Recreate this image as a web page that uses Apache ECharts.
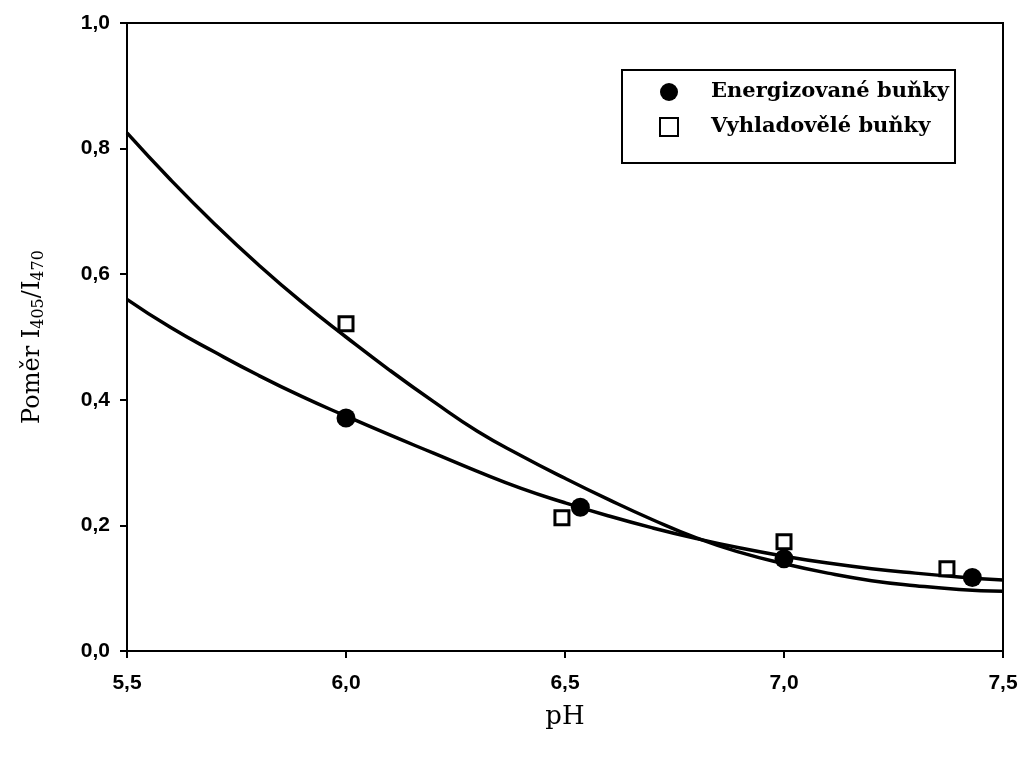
<!DOCTYPE html>
<html>
<head>
<meta charset="utf-8">
<script src="https://cdn.jsdelivr.net/npm/echarts@6/dist/echarts.min.js"></script>
<style>html,body{margin:0;padding:0;background:#fff}#c{width:1022px;height:758px}</style>
</head>
<body>
<div id="c"></div>
<script>
// Measured points
const energizedX = [6.0, 6.535, 7.0, 7.43];
const energizedY = [0.371, 0.229, 0.147, 0.117];
const starvedX = [6.0, 6.493, 7.0, 7.372];
const starvedY = [0.521, 0.212, 0.174, 0.131];
// Fitted curves
const curveX = [5.5, 5.6, 5.7, 5.8, 5.9, 6.0, 6.1, 6.2, 6.3, 6.4, 6.5, 6.6, 6.7, 6.8, 6.9, 7.0, 7.1, 7.2, 7.3, 7.4, 7.5];
const energizedFit = [0.56, 0.515, 0.476, 0.439, 0.405, 0.374, 0.344, 0.315, 0.286, 0.259, 0.236, 0.215, 0.196, 0.179, 0.164, 0.151, 0.140, 0.131, 0.124, 0.118, 0.113];
const starvedFit = [0.825, 0.75, 0.68, 0.615, 0.555, 0.50, 0.447, 0.397, 0.350, 0.311, 0.275, 0.241, 0.209, 0.180, 0.157, 0.139, 0.124, 0.112, 0.104, 0.098, 0.095];
const seriesNames = ['Energizované buňky', 'Vyhladovělé buňky'];
const xTicks = [5.5, 6.0, 6.5, 7.0, 7.5];
const yTicks = [0.0, 0.2, 0.4, 0.6, 0.8, 1.0];

const zip = (a, b) => a.map((v, i) => [v, b[i]]);
const fmt = v => v.toFixed(1).replace('.', ',');

const chart = echarts.init(document.getElementById('c'), null, {renderer: 'canvas'});
chart.setOption({
  animation: false,
  backgroundColor: '#fff',
  grid: {left: 127, right: 19, top: 23, bottom: 107, show: true, borderColor: '#000', borderWidth: 2},
  legend: {
    data: [
      {name: seriesNames[0], icon: 'circle'},
      {name: seriesNames[1], icon: 'rect'}
    ],
    orient: 'vertical',
    left: 622, top: 70,
    padding: [10, 6, 24, 37],
    itemGap: 11,
    itemWidth: 18, itemHeight: 18,
    borderColor: '#000', borderWidth: 2,
    textStyle: {fontFamily: 'DejaVu Serif', fontWeight: 'bold', fontSize: 21, lineHeight: 24, color: '#000', padding: [0, 0, 0, 28]}
  },
  xAxis: {
    type: 'value', min: 5.5, max: 7.5, interval: 0.5,
    name: 'pH', nameLocation: 'middle', nameGap: 53,
    nameTextStyle: {fontFamily: 'DejaVu Serif', fontSize: 26, color: '#000'},
    axisLine: {onZero: false, lineStyle: {color: '#000', width: 2}},
    axisTick: {show: true, inside: false, length: 7, lineStyle: {color: '#000', width: 2}},
    axisLabel: {margin: 22, fontFamily: 'Liberation Sans', fontWeight: 'bold', fontSize: 21, color: '#000',
      formatter: v => xTicks.some(t => Math.abs(t - v) < 1e-6) ? fmt(v) : ''},
    splitLine: {show: false}
  },
  yAxis: {
    type: 'value', min: 0, max: 1.0, interval: 0.2,
    name: '{m|Poměr I}{s|405}{m|/I}{s|470}', nameLocation: 'middle', nameGap: 80, nameRotate: 90,
    nameTextStyle: {
      rich: {
        m: {fontFamily: 'DejaVu Serif', fontSize: 24, color: '#000'},
        s: {fontFamily: 'DejaVu Serif', fontSize: 16, color: '#000', verticalAlign: 'bottom', padding: [12, 0, 0, 0]}
      }
    },
    axisLine: {onZero: false, lineStyle: {color: '#000', width: 2}},
    axisTick: {show: true, inside: false, length: 7, lineStyle: {color: '#000', width: 2}},
    axisLabel: {margin: 17, fontFamily: 'Liberation Sans', fontWeight: 'bold', fontSize: 21, color: '#000',
      formatter: v => yTicks.some(t => Math.abs(t - v) < 1e-6) ? fmt(v) : ''},
    splitLine: {show: false}
  },
  series: [
    {
      name: 'fitE', type: 'line', data: zip(curveX, energizedFit), smooth: true, showSymbol: false,
      lineStyle: {color: '#000', width: 3.5}, z: 2, silent: true
    },
    {
      name: 'fitS', type: 'line', data: zip(curveX, starvedFit), smooth: true, showSymbol: false,
      lineStyle: {color: '#000', width: 3.5}, z: 2, silent: true
    },
    {
      name: seriesNames[0], type: 'scatter', data: zip(energizedX, energizedY),
      symbol: 'circle', symbolSize: 19,
      itemStyle: {color: '#000', opacity: 1}, z: 4
    },
    {
      name: seriesNames[1], type: 'scatter', data: zip(starvedX, starvedY),
      symbol: 'rect', symbolSize: 14,
      itemStyle: {color: '#fff', borderColor: '#000', borderWidth: 3, opacity: 1}, z: 3
    }
  ]
});
</script>
</body>
</html>
